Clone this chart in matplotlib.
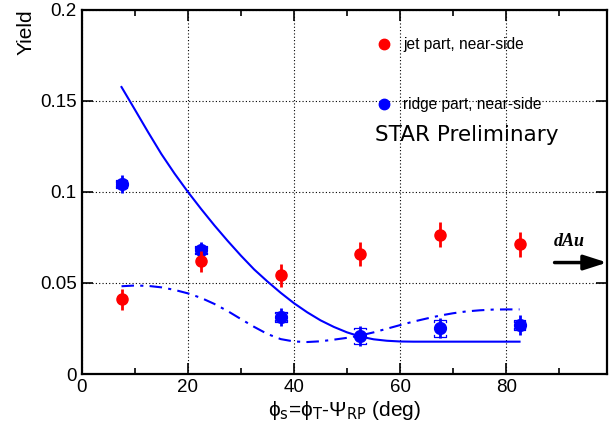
''' Near-side jet and ridge yields vs. trigger angle to reaction plane '''

import numpy as np
import matplotlib.pyplot as plt

plt.rcParams['font.family'] = ['Liberation Sans', 'DejaVu Sans']

# data
phi_s = [7.5, 22.5, 37.5, 52.5, 67.5, 82.5]
jet_yield = [0.0411, 0.0619, 0.0542, 0.0657, 0.0765, 0.0712]
jet_err = [0.0058, 0.0059, 0.0062, 0.0066, 0.0068, 0.0067]
ridge_yield = [0.1043, 0.0679, 0.0314, 0.0209, 0.0251, 0.0269]
ridge_err = [0.0047, 0.0045, 0.0051, 0.0053, 0.0055, 0.0055]
ridge_sys = [0.0022, 0.0022, 0.0028, 0.0045, 0.0045, 0.0027]

# model curves
curve_x = [7.5, 10, 12.5, 15, 17.5, 20, 22.5, 25, 27.5, 30, 32.5, 35, 37.5,
           40, 42.5, 45, 47.5, 50, 52.5, 55, 57.5, 60, 62.5, 65, 67.5, 70,
           72.5, 75, 77.5, 80, 82.5]
solid_y = [0.1575, 0.1452, 0.1328, 0.1208, 0.1100, 0.1000, 0.0906, 0.0816,
           0.0731, 0.0650, 0.0574, 0.0508, 0.0446, 0.0389, 0.0339, 0.0295,
           0.0259, 0.0229, 0.0206, 0.0191, 0.0183, 0.0179, 0.0178, 0.0178,
           0.0178, 0.0178, 0.0178, 0.0178, 0.0178, 0.0178, 0.0178]
dashdot_y = [0.0482, 0.0486, 0.0484, 0.0476, 0.0462, 0.0443, 0.0418, 0.0385,
             0.0346, 0.0302, 0.0259, 0.0220, 0.0192, 0.0179, 0.0176, 0.0180,
             0.0189, 0.0199, 0.0212, 0.0229, 0.0249, 0.0269, 0.0288, 0.0305,
             0.0321, 0.0334, 0.0344, 0.0350, 0.0354, 0.0355, 0.0355]

fig = plt.figure(figsize=(6.12, 4.34), dpi=100)
ax = fig.add_axes([0.1335, 0.138, 0.8585, 0.840])

ax.grid(True, which='major', color='black', linestyle=(0, (1, 2)), linewidth=0.8)

# curves
ax.plot(curve_x, solid_y, '-', color='#0000ff', lw=1.5, zorder=3)
ax.plot(curve_x, dashdot_y, color='#0000ff', lw=1.5, dashes=[6, 3, 1.5, 3], zorder=3)

# systematic brackets on ridge points
half_w = 1.1
tick = 0.0009
for x, y, s in zip(phi_s, ridge_yield, ridge_sys):
    for sgn in (1, -1):
        yy = y + sgn * s
        ax.plot([x - half_w, x - half_w, x + half_w, x + half_w],
                [yy - sgn * tick, yy, yy, yy - sgn * tick],
                color='#0000ff', lw=0.9, zorder=4)

ax.errorbar(phi_s, ridge_yield, yerr=ridge_err, fmt='o', color='#0000ff',
            ms=8.5, elinewidth=2, capsize=0, zorder=5)
ax.errorbar(phi_s, jet_yield, yerr=jet_err, fmt='o', color='#ff0000',
            ms=8, elinewidth=2, capsize=0, zorder=6)

# legend
ax.plot([57.0], [0.181], 'o', color='#ff0000', ms=7.5)
ax.plot([57.0], [0.148], 'o', color='#0000ff', ms=7.5)
ax.text(60.6, 0.181, 'jet part, near-side', fontsize=11.2, va='center')
ax.text(60.6, 0.148, 'ridge part, near-side', fontsize=11.2, va='center')

ax.text(55.3, 0.128, 'STAR Preliminary', fontsize=15.5, family='DejaVu Sans',
        va='baseline')
ax.text(88.9, 0.0705, 'dAu', fontsize=13, family='Liberation Serif',
        style='italic', weight='bold', va='baseline')
ax.annotate('', xy=(99, 0.0612), xytext=(89.1, 0.0612),
            arrowprops=dict(arrowstyle='-|>,head_length=1.4,head_width=0.45',
                            color='black', lw=2.5, shrinkA=0, shrinkB=0))

ax.set_xlim(0, 99)
ax.set_ylim(0, 0.2)
ax.set_xticks([0, 20, 40, 60, 80])
ax.set_xticks([10, 30, 50, 70, 90], minor=True)
ax.set_yticks([0, 0.05, 0.1, 0.15, 0.2])
ax.set_yticklabels(['0', '0.05', '0.1', '0.15', '0.2'])
ax.tick_params(which='both', direction='in', top=True, right=True,
               labelsize=13.5, width=1.2)
ax.tick_params(which='major', length=8)
ax.tick_params(which='minor', length=4)
for sp in ax.spines.values():
    sp.set_linewidth(1.6)

ax.set_xlabel('\u03d5$_{\\rm s}$=\u03d5$_{\\rm T}$-\u03a8$_{\\rm RP}$ (deg)',
              fontsize=15, labelpad=2)
ax.set_ylabel('Yield', fontsize=15, loc='top', labelpad=3)

plt.savefig('out.png', dpi=100)
